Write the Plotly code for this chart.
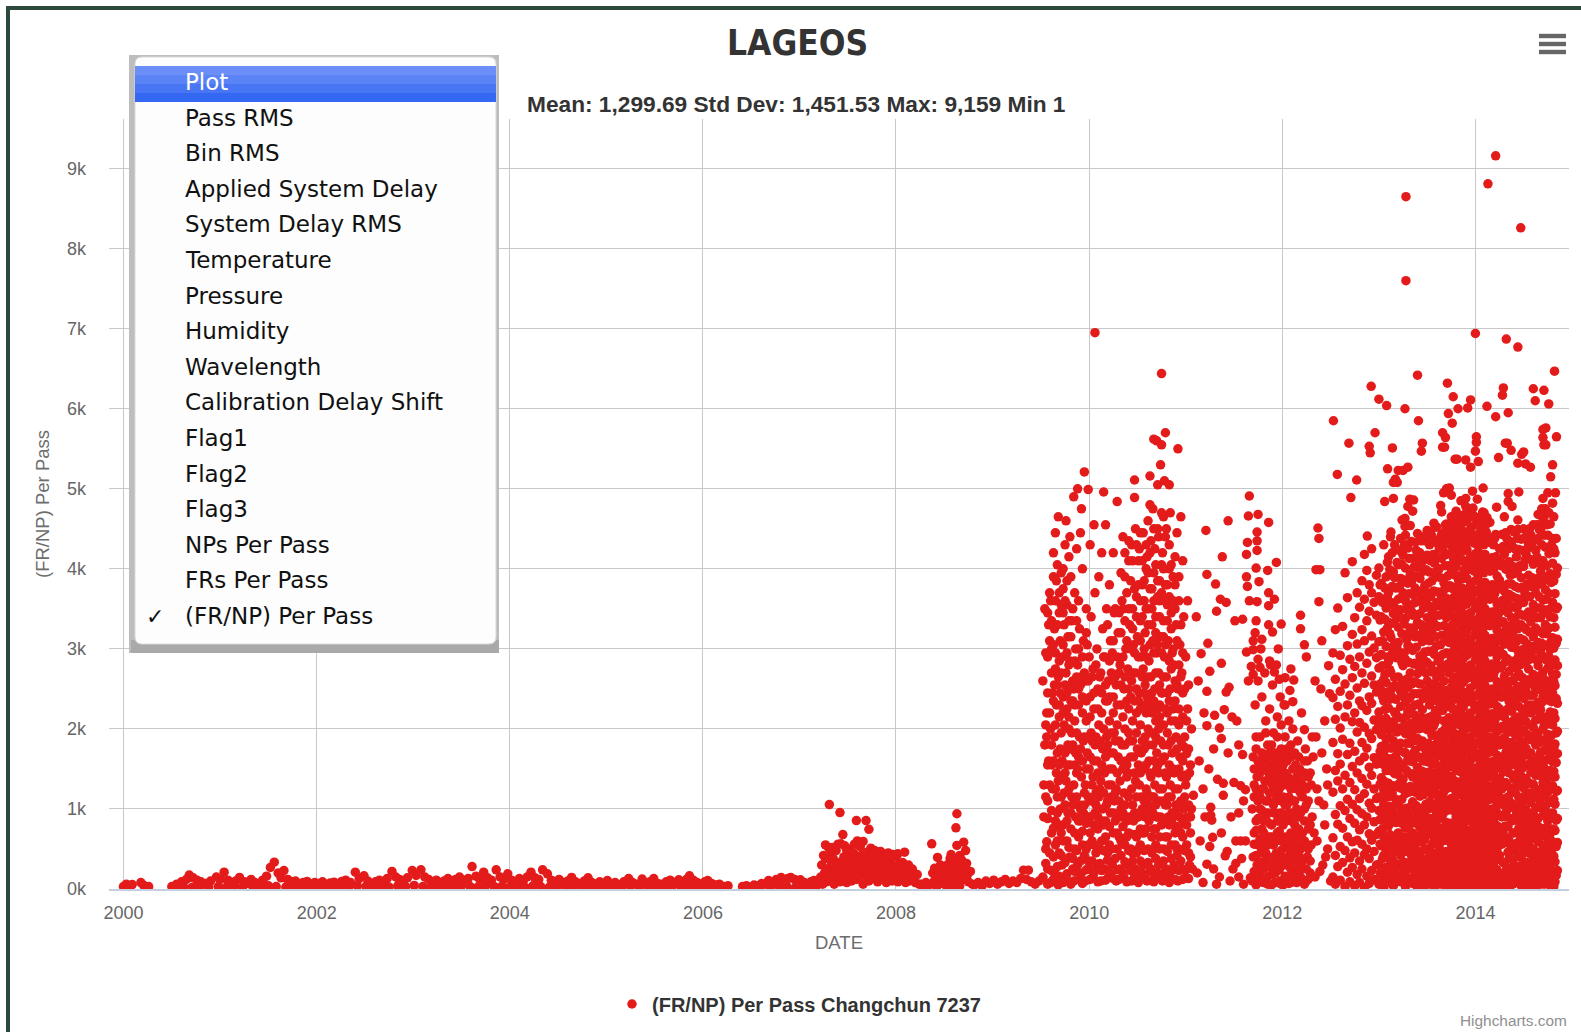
import plotly.graph_objects as go
import pandas as pd

# ---------------- data: (decimal year, FR/NP per pass) ----------------
low_band = [
(2000.00,30),(2000.03,60),(2000.06,40),(2000.09,55),(2000.18,80),(2000.21,45),(2000.26,30),
(2000.50,30),(2000.55,60),(2000.60,90),(2000.65,120),(2000.68,175),(2000.72,140),(2000.76,110),(2000.80,90),(2000.85,70),(2000.90,100),(2000.96,150),(2001.00,120),(2001.04,210),(2001.08,110),(2001.12,80),(2001.16,100),(2001.20,145),(2001.25,90),(2001.29,70),(2001.32,120),(2001.36,80),(2001.40,60),(2001.44,110),(2001.48,160),(2001.52,270),(2001.56,335),(2001.60,200),(2001.63,140),(2001.66,230),(2001.70,120),(2001.74,90),(2001.78,100),(2001.82,70),(2001.86,80),(2001.90,95),(2001.94,60),(2001.98,80),
(2002.02,70),(2002.06,90),(2002.10,60),(2002.14,75),(2002.18,85),(2002.22,65),(2002.26,95),(2002.30,110),(2002.35,80),(2002.40,210),(2002.44,130),(2002.49,165),(2002.53,100),(2002.57,70),(2002.61,90),(2002.65,110),(2002.69,80),(2002.73,130),(2002.78,220),(2002.82,150),(2002.86,120),(2002.90,100),(2002.94,140),(2002.99,230),
(2003.03,170),(2003.08,240),(2003.12,150),(2003.16,120),(2003.20,90),(2003.24,110),(2003.28,80),(2003.32,100),(2003.36,130),(2003.40,90),(2003.44,120),(2003.48,150),(2003.52,110),(2003.57,130),(2003.61,280),(2003.65,160),(2003.69,120),(2003.73,210),(2003.77,140),(2003.81,110),(2003.86,240),(2003.90,150),(2003.94,120),(2003.98,190),
(2004.02,110),(2004.06,90),(2004.10,130),(2004.14,100),(2004.18,150),(2004.22,210),(2004.26,140),(2004.30,120),(2004.34,240),(2004.39,190),(2004.43,110),(2004.47,90),(2004.51,120),(2004.55,80),(2004.60,100),(2004.64,145),(2004.68,90),(2004.72,70),(2004.77,100),(2004.81,140),(2004.85,80),(2004.89,60),(2004.93,90),(2004.97,70),
(2005.01,105),(2005.05,60),(2005.09,80),(2005.13,50),(2005.18,90),(2005.23,130),(2005.27,80),(2005.32,60),(2005.37,125),(2005.41,70),(2005.45,90),(2005.49,130),(2005.53,70),(2005.57,60),(2005.62,90),(2005.66,110),(2005.70,80),(2005.75,115),(2005.79,90),(2005.83,120),(2005.86,165),(2005.90,110),(2005.94,80),(2005.98,60),
(2006.02,90),(2006.05,105),(2006.09,70),(2006.13,50),(2006.17,60),(2006.22,30),(2006.26,40),
]
low_base = [
(2000.53,20),(2000.62,30),(2000.71,20),(2000.79,35),(2000.88,25),(2000.98,30),(2001.06,20),(2001.14,35),(2001.23,25),(2001.34,30),(2001.42,20),(2001.50,40),(2001.58,30),(2001.68,25),(2001.76,35),(2001.84,20),(2001.92,30),(2002.00,25),(2002.08,35),(2002.16,20),(2002.24,30),(2002.33,25),(2002.42,40),(2002.51,30),(2002.59,20),(2002.67,35),(2002.75,25),(2002.84,40),(2002.92,30),(2003.01,45),(2003.10,30),(2003.18,25),(2003.26,35),(2003.34,20),(2003.42,30),(2003.50,40),(2003.59,30),(2003.67,25),(2003.75,40),(2003.84,30),(2003.92,35),(2004.00,25),(2004.08,30),(2004.16,20),(2004.24,40),(2004.32,30),(2004.41,25),(2004.49,35),(2004.58,20),(2004.66,30),(2004.75,25),(2004.83,35),(2004.91,20),(2004.99,30),(2005.07,25),(2005.16,20),(2005.25,35),(2005.34,25),(2005.43,30),(2005.51,20),(2005.60,25),(2005.68,35),(2005.77,30),(2005.85,40),(2005.92,25),(2006.00,30),(2006.07,20),(2006.15,25),
(2006.43,15),(2006.51,20),(2006.59,25),(2006.70,30),(2006.79,35),(2006.87,30),(2006.96,25),(2007.03,30),(2007.11,20),(2007.17,25),
]
band_2006_2007 = [
(2006.41,30),(2006.45,40),(2006.49,25),(2006.53,50),(2006.57,40),(2006.61,70),(2006.65,60),(2006.68,105),(2006.72,80),(2006.76,120),(2006.81,145),(2006.85,110),(2006.88,130),(2006.91,145),(2006.95,120),(2006.98,90),(2007.01,115),(2007.05,80),(2007.09,60),(2007.12,90),(2007.15,105),(2007.19,70),
]
cluster_2007 = [
(2007.22,150),(2007.23,300),(2007.24,60),(2007.25,420),(2007.26,200),(2007.27,380),(2007.28,90),(2007.29,250),(2007.30,520),(2007.31,1055),(2007.31,130),(2007.32,440),(2007.33,300),(2007.34,180),(2007.35,380),(2007.36,60),(2007.37,250),(2007.38,480),(2007.39,150),(2007.40,330),(2007.41,220),(2007.42,955),(2007.42,90),(2007.43,565),(2007.44,280),(2007.45,680),(2007.45,150),(2007.46,400),(2007.47,230),(2007.48,330),(2007.49,480),(2007.49,80),(2007.50,290),(2007.51,180),(2007.52,390),(2007.53,250),(2007.54,100),(2007.55,340),(2007.56,450),(2007.57,200),(2007.58,300),(2007.59,855),(2007.59,120),(2007.60,600),(2007.61,380),(2007.62,250),(2007.63,170),(2007.64,420),(2007.65,300),(2007.66,595),(2007.66,60),(2007.67,230),(2007.68,360),(2007.69,855),(2007.69,150),(2007.70,460),(2007.71,270),(2007.72,745),(2007.72,100),(2007.73,350),(2007.74,200),(2007.75,420),(2007.76,280),(2007.77,130),(2007.78,330),(2007.79,230),(2007.80,380),(2007.81,90),(2007.82,290),(2007.83,190),(2007.84,350),(2007.85,250),(2007.86,120),(2007.87,300),(2007.88,200),(2007.89,420),(2007.90,80),(2007.91,260),(2007.92,340),(2007.93,160),(2007.94,240),(2007.95,310),(2007.96,100),(2007.97,200),(2007.98,280),(2007.99,140),(2008.00,400),(2008.01,220),(2008.02,90),(2008.03,300),(2008.04,170),(2008.05,250),(2008.06,120),(2008.07,330),(2008.08,200),(2008.09,460),(2008.10,80),(2008.11,240),(2008.12,150),(2008.13,300),(2008.14,100),(2008.15,200),(2008.17,250),(2008.18,130),(2008.20,80),(2008.22,180),(2008.24,60),
(2007.27,550),(2007.34,520),(2007.40,560),(2007.47,540),(2007.53,500),(2007.57,560),(2007.63,530),(2007.74,510),(2007.78,480),(2007.84,470),(2007.92,450),(2007.97,430),(2008.02,440),
]
cluster_2008 = [
(2008.26,60),(2008.29,40),(2008.31,80),(2008.34,50),
(2008.37,565),(2008.38,200),(2008.39,90),(2008.40,260),(2008.41,150),(2008.43,395),(2008.44,60),(2008.45,180),(2008.46,300),(2008.47,120),(2008.48,220),(2008.49,80),(2008.50,260),(2008.51,160),(2008.53,300),(2008.54,100),(2008.55,230),(2008.56,380),(2008.57,430),(2008.58,150),(2008.59,290),(2008.60,360),(2008.61,200),(2008.62,765),(2008.62,100),(2008.63,940),(2008.63,545),(2008.64,320),(2008.65,170),(2008.66,420),(2008.67,250),(2008.68,360),(2008.69,120),(2008.70,585),(2008.71,280),(2008.72,480),(2008.73,320),(2008.74,180),(2008.75,90),(2008.77,220),(2008.79,60),
(2008.42,30),(2008.52,40),(2008.58,30),(2008.66,40),
(2008.81,50),(2008.85,80),(2008.89,40),(2008.93,100),(2008.97,70),(2009.01,110),(2009.05,60),(2009.09,90),(2009.13,120),(2009.17,70),(2009.21,100),(2009.25,80),(2009.29,130),(2009.32,235),(2009.35,120),(2009.37,235),(2009.40,90),(2009.44,60),(2009.48,100),(2009.52,140),
]
burst_2009_2011 = [
(2009.52,150),(2009.53,900),(2009.54,1800),(2009.52,2600),(2009.54,3500),(2009.55,500),(2009.53,1300),
(2009.56,590),(2009.57,1100),(2009.58,1600),(2009.56,2200),(2009.57,2900),(2009.58,3300),(2009.57,250),(2009.59,3700),(2009.56,1900),
(2009.60,80),(2009.61,700),(2009.62,1250),(2009.60,2000),(2009.62,2450),(2009.61,3000),(2009.60,3600),(2009.63,4200),(2009.61,1550),(2009.63,400),
(2009.64,200),(2009.65,850),(2009.66,1450),(2009.64,1900),(2009.66,2300),(2009.65,2750),(2009.64,3250),(2009.66,3850),(2009.65,4450),(2009.67,600),(2009.67,1150),(2009.64,2550),
(2009.68,50),(2009.69,450),(2009.70,1000),(2009.68,1350),(2009.70,1750),(2009.69,2150),(2009.68,2650),(2009.70,3100),(2009.69,3450),(2009.71,3950),(2009.68,4650),(2009.71,700),(2009.70,2450),
(2009.72,300),(2009.73,800),(2009.74,1200),(2009.72,1600),(2009.74,2050),(2009.73,2400),(2009.72,2900),(2009.74,3300),(2009.73,3750),(2009.75,4300),(2009.72,120),(2009.75,1450),(2009.73,4000),
(2009.76,150),(2009.77,600),(2009.78,950),(2009.76,1350),(2009.78,1800),(2009.77,2250),(2009.76,2700),(2009.78,3150),(2009.77,3550),(2009.79,4150),(2009.76,4600),(2009.79,2000),
(2009.80,400),(2009.81,750),(2009.82,1150),(2009.80,1550),(2009.82,1950),(2009.81,2350),(2009.80,2850),(2009.82,3350),(2009.81,3900),(2009.83,250),(2009.80,4400),(2009.83,2600),
(2009.84,100),(2009.85,500),(2009.86,900),(2009.84,1300),(2009.86,1700),(2009.85,2100),(2009.84,2500),(2009.86,3000),(2009.85,3700),(2009.87,4250),(2009.84,4900),(2009.87,1450),
(2009.88,300),(2009.89,650),(2009.90,1050),(2009.88,1500),(2009.90,1900),(2009.89,2300),(2009.88,2800),(2009.90,3250),(2009.89,3600),(2009.91,4450),(2009.88,5000),(2009.91,850),
(2009.92,200),(2009.93,550),(2009.94,950),(2009.92,1400),(2009.94,1850),(2009.93,2200),(2009.92,2650),(2009.94,3100),(2009.93,4000),(2009.95,5210),(2009.92,4750),(2009.95,1200),
(2009.96,100),(2010.06,6950),(2009.97,500),(2009.98,900),(2009.96,1300),(2009.98,1700),(2009.97,2100),(2009.96,2600),(2009.98,3050),(2009.97,3500),(2009.99,4990),(2009.99,350),
(2010.00,250),(2010.01,700),(2010.02,1100),(2010.00,1500),(2010.02,1950),(2010.01,2400),(2010.00,2900),(2010.02,3400),(2010.01,4300),(2010.03,600),
(2010.04,150),(2010.05,550),(2010.06,950),(2010.04,1400),(2010.06,1800),(2010.05,2250),(2010.04,2750),(2010.06,3700),(2010.05,4550),(2010.07,1200),
(2010.08,300),(2010.09,750),(2010.10,1150),(2010.08,1600),(2010.10,2050),(2010.09,2500),(2010.08,3000),(2010.10,3900),(2010.11,500),
(2010.12,100),(2010.13,600),(2010.14,1000),(2010.12,1350),(2010.14,1750),(2010.13,2200),(2010.12,2700),(2010.14,3250),(2010.15,4960),(2010.13,4200),(2010.15,800),
(2010.16,250),(2010.17,650),(2010.18,1050),(2010.16,1450),(2010.18,1900),(2010.17,2350),(2010.16,2900),(2010.18,3500),(2010.19,450),(2010.17,4550),
(2010.20,150),(2010.21,550),(2010.22,950),(2010.20,1300),(2010.22,1700),(2010.21,2100),(2010.20,2600),(2010.22,3100),(2010.21,3800),(2010.23,1150),
(2010.24,300),(2010.25,700),(2010.26,1100),(2010.24,1500),(2010.26,1950),(2010.25,2400),(2010.24,2950),(2010.26,3450),(2010.25,4200),(2010.27,850),
(2010.28,100),(2010.29,500),(2010.30,900),(2010.28,1250),(2010.30,1650),(2010.29,2050),(2010.28,2550),(2010.30,3200),(2010.29,4840),(2010.31,650),(2010.31,900),
(2010.32,250),(2010.33,600),(2010.34,900),(2010.32,1350),(2010.34,1800),(2010.33,2300),(2010.32,2800),(2010.34,3600),(2010.35,4400),(2010.35,950),
(2010.36,150),(2010.37,550),(2010.38,900),(2010.36,1200),(2010.38,1600),(2010.37,2000),(2010.36,2500),(2010.38,3000),(2010.37,3900),(2010.39,850),(2010.39,1400),
(2010.40,300),(2010.41,700),(2010.42,900),(2010.40,1450),(2010.42,1850),(2010.41,2250),(2010.40,2750),(2010.42,3300),(2010.41,4100),(2010.43,500),
(2010.44,100),(2010.45,450),(2010.46,850),(2010.44,1250),(2010.46,1650),(2010.45,2100),(2010.44,2600),(2010.46,3050),(2010.45,3500),(2010.47,4890),(2010.47,5110),(2010.47,950),(2010.44,4300),
(2010.48,250),(2010.49,650),(2010.50,900),(2010.48,1350),(2010.50,1750),(2010.49,2200),(2010.48,2700),(2010.50,3150),(2010.49,3650),(2010.51,4100),(2010.51,500),(2010.48,4500),
(2010.52,150),(2010.53,550),(2010.54,950),(2010.52,1300),(2010.54,1700),(2010.53,2050),(2010.52,2450),(2010.54,2900),(2010.53,3350),(2010.55,3800),(2010.52,4250),(2010.55,700),(2010.54,1150),
(2010.56,300),(2010.57,700),(2010.58,900),(2010.56,1500),(2010.58,1900),(2010.57,2300),(2010.56,2750),(2010.58,3200),(2010.57,3600),(2010.59,4000),(2010.56,4450),(2010.59,1250),(2010.58,2550),
(2010.60,100),(2010.61,500),(2010.62,850),(2010.60,1200),(2010.62,1600),(2010.61,2000),(2010.60,2400),(2010.62,2850),(2010.61,3300),(2010.63,3750),(2010.60,4150),(2010.63,5160),(2010.62,1000),(2010.61,4600),
(2010.64,250),(2010.65,650),(2010.66,950),(2010.64,1400),(2010.66,1800),(2010.65,2200),(2010.64,2650),(2010.66,3100),(2010.65,3500),(2010.67,3950),(2010.64,4350),(2010.67,5620),(2010.66,4750),(2010.67,1150),
(2010.68,150),(2010.69,550),(2010.70,900),(2010.68,1300),(2010.70,1700),(2010.69,2100),(2010.68,2500),(2010.70,2950),(2010.69,3400),(2010.71,3850),(2010.68,4250),(2010.71,5050),(2010.70,5600),(2010.69,750),(2010.70,1500),
(2010.72,300),(2010.73,650),(2010.74,900),(2010.72,1450),(2010.74,1850),(2010.73,2300),(2010.72,2700),(2010.74,3150),(2010.73,3600),(2010.75,4050),(2010.72,4400),(2010.74,5300),(2010.75,5550),(2010.75,6440),(2010.73,1100),(2010.72,2000),
(2010.76,100),(2010.77,500),(2010.78,850),(2010.76,1250),(2010.78,1650),(2010.77,2050),(2010.76,2450),(2010.78,2900),(2010.77,3350),(2010.79,3800),(2010.76,4200),(2010.79,5700),(2010.78,5100),(2010.77,4650),(2010.79,1050),
(2010.80,250),(2010.81,650),(2010.82,900),(2010.80,1400),(2010.82,1800),(2010.81,2200),(2010.80,2650),(2010.82,3100),(2010.81,3550),(2010.83,4000),(2010.80,4500),(2010.83,5050),(2010.82,1150),
(2010.84,150),(2010.85,550),(2010.86,950),(2010.84,1300),(2010.86,1700),(2010.85,2100),(2010.84,2500),(2010.86,2950),(2010.85,3450),(2010.87,3900),(2010.84,4700),(2010.87,800),
(2010.88,300),(2010.89,700),(2010.90,1050),(2010.88,1450),(2010.90,1900),(2010.89,2350),(2010.88,2800),(2010.90,3300),(2010.89,3800),(2010.91,4450),(2010.92,5500),(2010.91,500),
(2010.92,100),(2010.93,500),(2010.94,900),(2010.92,1250),(2010.94,1650),(2010.93,2050),(2010.92,2500),(2010.94,3050),(2010.93,3600),(2010.95,4650),(2010.95,700),
(2010.96,250),(2010.97,650),(2010.98,1000),(2010.96,1400),(2010.98,1780),(2010.97,2150),(2010.96,2700),(2010.98,3400),(2010.99,1420),(2010.97,4100),
(2011.00,150),(2011.01,550),(2011.02,900),(2011.00,1300),(2011.01,1690),(2011.02,2250),(2011.00,2900),(2011.03,450),(2011.02,3600),
(2011.04,300),(2011.05,700),(2011.06,1000),(2011.04,1450),(2011.06,2000),(2011.08,1170),(2011.07,250),
]
cols_2009_2011 = [
(2009.55,[320,1150,2050,2950]),(2009.57,[60,880,1550,2450,3450]),(2009.59,[450,1300,2200,3100]),
(2009.61,[230,980,1800,2700,3350]),(2009.63,[120,760,1600,2350,3050,3900]),(2009.65,[550,1250,2050,2950,3600]),
(2009.67,[280,950,1700,2550,3300,4050]),(2009.69,[160,800,1550,2300,2850,3700]),(2009.71,[420,1150,1950,2700,3550]),
(2009.73,[80,600,1400,2200,3050,3450]),(2009.75,[330,1050,1700,2550,3600]),(2009.77,[190,850,1550,2450,2950,3850]),
(2009.79,[520,1250,2150,2800,3350]),(2009.81,[60,950,1750,2550,3150]),(2009.83,[380,1050,1800,2350,3500]),
(2009.85,[220,700,1550,2300,2850]),(2009.87,[480,1150,1950,2650,3350]),(2009.89,[120,850,1650,2500,3000]),
(2009.91,[350,1000,1750,2550]),(2009.93,[70,720,1600,2400,2900]),(2009.95,[420,1050,1900,2700]),
(2009.97,[240,820,1500,2350,3200]),(2009.99,[550,1150,1900,2600]),(2010.01,[120,900,1650,2150]),
(2010.03,[350,1300,1850,2650]),(2010.05,[200,800,1600,2450]),(2010.07,[450,1050,1900,2800]),
(2010.09,[90,900,1450,2250]),(2010.11,[320,1250,1850,2650]),(2010.13,[230,850,1550,2450]),
(2010.15,[480,1200,2000,2900]),(2010.17,[110,850,1650,2550]),(2010.19,[360,1100,1800,2350,3300]),
(2010.21,[200,780,1500,2400,2850]),(2010.23,[500,1300,1950,2700]),(2010.25,[130,950,1700,2200,3100]),
(2010.27,[380,1200,1850,2650,3500]),(2010.29,[240,700,1450,2300,2900]),(2010.31,[120,1100,1850,2700,3450]),
(2010.33,[420,1000,1600,2550,3200,3950]),(2010.35,[200,780,1500,2150,2900,3500]),(2010.37,[340,1050,1800,2650,3350,4200]),
(2010.39,[90,650,1550,2350,3100,3700]),(2010.41,[480,1150,1950,2500,3500,4350]),(2010.43,[230,880,1650,2400,3000,3850]),
(2010.45,[350,1050,1850,2700,3250,4100]),(2010.47,[150,680,1450,2350,2950,3750]),(2010.49,[450,1150,1950,2500,3400,4300]),
(2010.51,[80,900,1550,2350,2900,3800]),(2010.53,[350,750,1450,2250,3100,3600,4450]),(2010.55,[200,1000,1850,2650,3400,4100]),
(2010.57,[480,1100,1750,2450,3000,3850]),(2010.59,[120,750,1550,2200,2900,3500,4300]),(2010.61,[330,1050,1800,2650,3500,3950]),
(2010.63,[220,900,1450,2300,3050,4200,4800]),(2010.65,[450,1150,1950,2450,3300,3750]),(2010.67,[90,750,1600,2350,2950,3600,4500]),
(2010.69,[380,1050,1900,2700,3200,4050]),(2010.71,[200,900,1550,2250,3050,3650,4500]),(2010.73,[500,1250,2150,2550,3400,3850]),
(2010.75,[130,800,1600,2450,2950,3700,4700]),(2010.77,[350,1100,1800,2650,3150,4000]),(2010.79,[220,650,1450,2250,3050,3600,4400]),
(2010.81,[470,1050,1950,2450,3350,3800]),(2010.83,[80,800,1550,2350,2850,3650,4300]),(2010.85,[380,1150,1850,2750,3250,4050]),
(2010.87,[240,900,1500,2250,3000,3600]),(2010.89,[120,550,1250,2100,2600,3500,4150]),(2010.91,[420,1000,1750,2550,3100]),
(2010.93,[230,780,1500,2250,2800,3900]),(2010.95,[350,1100,1850,2650,3300]),(2010.97,[120,850,1600,2450,2950]),
(2010.99,[480,1150,1900,2500]),(2011.01,[250,800,1400,2100]),(2011.03,[130,1050,1750,2550]),(2011.05,[400,900,1550]),
]
sparse_2011 = [
(2011.21,4480),(2011.22,3930),(2011.31,3810),(2011.36,3620),(2011.32,3470),(2011.42,3580),(2011.38,4150),(2011.44,4600),(2011.23,3070),(2011.16,2940),(2011.25,2720),(2011.37,2820),(2011.22,2470),(2011.42,2460),(2011.45,2520),(2011.40,2240),(2011.30,2170),(2011.22,2040),(2011.35,2010),(2011.48,2150),(2011.37,1880),(2011.44,1700),(2011.59,1680),(2011.26,1020),(2011.26,920),(2011.27,860),(2011.28,645),(2011.25,530),(2011.22,310),(2011.32,60),(2011.52,600),(2011.57,600),(2011.62,600),(2011.41,415),(2011.43,470),(2011.52,320),(2011.67,140),(2011.47,900),(2011.39,1170),(2011.39,1320),(2011.50,1330),(2011.57,1290),(2011.62,1240),(2011.60,1100),(2011.33,1370),
(2011.12,200),(2011.15,600),(2011.18,80),(2011.20,900),(2011.29,250),(2011.35,150),(2011.37,700),(2011.46,100),(2011.49,250),(2011.55,150),(2011.58,380),(2011.60,60),(2011.14,1600),(2011.18,1250),(2011.24,1500),(2011.29,1750),(2011.55,950),(2011.11,3400),(2011.13,2600),(2011.19,2200),(2011.53,2100),(2011.55,1800),
(2011.66,4910),(2011.65,4660),(2011.75,4680),(2011.86,4580),(2011.74,4460),(2011.64,4330),(2011.74,4350),(2011.74,4230),(2011.63,4180),(2011.73,4010),(2011.85,3980),(2011.94,4080),(2011.63,3900),(2011.76,3840),(2011.64,3780),(2011.86,3700),(2011.92,3620),(2011.66,3600),(2011.74,3590),(2011.86,3540),(2011.51,3350),(2011.59,3370),(2011.73,3350),(2011.72,3200),(2011.90,3210),(2011.99,3310),(2011.70,3100),(2011.79,3120),(2011.70,2990),(2011.63,2960),(2011.96,3000),(2011.75,2870),(2011.87,2850),(2011.68,2780),(2011.77,2770),(2011.70,2680),(2011.65,2600),(2011.88,2800),(2011.92,2710),(2011.97,2620),(2012.03,2640),(2012.09,2750),(2012.12,2610),(2012.08,2480),(2012.11,2340),(2012.03,2300),(2012.20,2200),(2012.23,1990),(2012.19,3420),(2012.19,3250),(2012.23,3050),(2012.25,2900),
(2012.34,150),(2012.36,600),(2012.38,1100),(2012.35,1900),(2012.40,2500),(2012.42,300),(2012.44,800),(2012.46,1500),(2012.48,2790),(2012.49,2440),(2012.37,4510),(2012.38,4380),(2012.35,3990),(2012.39,3990),(2012.38,3590),(2012.50,100),(2012.47,500),
(2012.33,700),(2012.36,1250),(2012.41,1700),(2012.43,1050),(2012.45,400),(2012.31,1900),(2012.39,220),(2012.47,1300),(2012.44,2100),(2012.34,2600),(2012.41,3100),
]
dense_2012 = [
(2011.69,100),(2011.70,400),(2011.71,700),(2011.69,1000),(2011.71,1300),(2011.70,1650),(2011.72,2300),
(2011.73,50),(2011.74,300),(2011.75,550),(2011.73,850),(2011.75,1100),(2011.74,1400),(2011.73,1750),(2011.75,2600),
(2011.77,200),(2011.78,450),(2011.79,750),(2011.77,1000),(2011.79,1250),(2011.78,1550),(2011.77,1900),(2011.79,2400),(2011.78,3000),
(2011.81,80),(2011.82,350),(2011.83,600),(2011.81,850),(2011.83,1100),(2011.82,1350),(2011.81,1650),(2011.83,2100),(2011.82,2700),
(2011.85,150),(2011.86,400),(2011.87,650),(2011.85,950),(2011.87,1200),(2011.86,1450),(2011.85,1800),(2011.87,2250),(2011.86,3300),
(2011.89,50),(2011.90,300),(2011.91,550),(2011.89,800),(2011.91,1050),(2011.90,1300),(2011.89,1550),(2011.91,1950),(2011.90,2550),
(2011.93,200),(2011.94,450),(2011.95,700),(2011.93,950),(2011.95,1200),(2011.94,1450),(2011.93,1700),(2011.95,2150),(2011.94,2800),
(2011.97,100),(2011.98,350),(2011.99,600),(2011.97,850),(2011.99,1100),(2011.98,1350),(2011.97,1650),(2011.99,2050),(2011.98,2400),
(2012.01,50),(2012.02,300),(2012.03,550),(2012.01,800),(2012.03,1050),(2012.02,1300),(2012.01,1550),(2012.03,1900),(2012.02,2300),
(2012.05,150),(2012.06,400),(2012.07,650),(2012.05,900),(2012.07,1150),(2012.06,1400),(2012.05,1750),(2012.07,2100),
(2012.09,80),(2012.10,350),(2012.11,600),(2012.09,850),(2012.11,1100),(2012.10,1350),(2012.09,1650),(2012.11,2000),
(2012.13,200),(2012.14,450),(2012.15,700),(2012.13,950),(2012.15,1250),(2012.14,1550),(2012.16,1850),
(2012.17,100),(2012.18,400),(2012.19,650),(2012.17,900),(2012.19,1200),(2012.18,1500),
(2012.21,250),(2012.22,550),(2012.23,850),(2012.21,1150),(2012.23,1450),(2012.24,1750),
(2012.25,100),(2012.26,400),(2012.27,750),(2012.25,1050),(2012.27,1400),(2012.26,1600),
(2012.29,200),(2012.30,550),(2012.31,900),(2012.30,1300),(2012.32,1650),
]
cols_2011_2012 = [
(2011.71,[220,560,1150,1500]),(2011.73,[420,730,1250,1900]),(2011.75,[150,880,1600]),(2011.77,[330,620,1150,1450]),
(2011.79,[90,500,980,1700]),(2011.81,[250,700,1250,1500]),(2011.83,[450,900,1600,1950]),(2011.85,[60,550,1100,1350]),
(2011.87,[280,820,1400,1700]),(2011.89,[180,650,1200,1800]),(2011.91,[400,950,1450,1650]),(2011.93,[80,600,1100,1350]),
(2011.95,[330,850,1600,1900]),(2011.97,[240,720,1250,1500]),(2011.99,[60,480,950,1750]),(2012.01,[380,650,1150,1400]),
(2012.03,[160,850,1450,1650]),(2012.05,[300,650,1050,1600]),(2012.07,[70,500,950,1350]),(2012.09,[250,700,1250,1800]),
(2012.11,[180,450,950,1500]),(2012.13,[380,800,1100,1700]),(2012.15,[80,550,1000,1400]),(2012.17,[280,750,1300,1650]),
(2012.19,[150,500,950,1350]),(2012.21,[350,700,1300]),(2012.23,[60,600,1000,1600]),(2012.25,[250,550,1250]),
(2012.27,[120,500,1100]),(2012.29,[350,800,1450]),
]
cols_2012_2013 = [
(2012.525,[150,640,1210,1830,2390,2950]),(2012.550,[60,420,930,1480,2120,2620,3240]),(2012.575,[280,810,1350,1690,2280,3510]),
(2012.600,[110,530,1040,1560,2010,2470,2920]),(2012.625,[330,760,1250,1870,2740,3280]),(2012.650,[30,480,980,1420,2150,2560,3950]),
(2012.675,[210,650,1120,1680,2300,3040,3640]),(2012.700,[90,390,880,1330,1820,2420,2870]),(2012.725,[270,590,1060,1530,2090,2640,3180,4090]),
(2012.750,[40,450,820,1240,1720,2200,2780,3390]),(2012.775,[180,610,990,1450,1960,2510,3060,3700]),(2012.800,[80,350,740,1130,1600,2080,2350,2900,3520]),
(2012.825,[250,560,940,1380,1830,2290,2700,3240,3850]),(2012.850,[20,430,800,1190,1650,2020,2570,3100,3620,4180]),(2012.875,[160,500,900,1310,1760,2230,2820,3350,3980]),
(2012.900,[70,380,690,1070,1520,1940,2400,2960,3470,3800]),(2012.925,[230,610,1010,1420,1880,2320,2660,3160,3700,4250]),(2012.950,[120,470,840,1250,1640,2110,2550,3010,3580]),
(2012.975,[300,680,1130,1560,1990,2460,2890,3420,3920]),
]
cols_2013_2014 = [
(2013.000,[60,310,720,980,1150,1620,2040,2210,2760,3090,3650,4010]),
(2013.025,[180,540,860,1390,1780,1930,2480,2930,3400,3820]),
(2013.050,[20,420,650,1060,1240,1710,2350,2620,3210,4300]),
(2013.075,[270,480,900,1480,1880,2130,2580,3030,3510,3900]),
(2013.100,[110,390,790,1150,1320,1990,2260,2840,3330,3700,4150]),
(2013.125,[230,610,1010,1570,1760,2420,2700,3140,3580,4460]),
(2013.150,[40,350,560,940,1290,1850,2090,2530,2980,3440,3960]),
(2013.175,[160,470,830,1120,1660,2190,2370,2890,3760,4240]),
(2013.200,[290,700,1050,1430,1600,2010,2650,3080,3270,3620,4050]),
(2013.225,[90,420,610,880,1260,1820,2280,2470,2950,3490,3880,4380]),
(2013.250,[200,540,1000,1370,1550,2130,2600,2790,3180,3700,4170]),
(2013.275,[30,330,760,1190,1700,1940,2330,2870,3380,3600,4010,4420]),
(2013.300,[140,490,640,930,1450,1620,2220,2520,3040,3540,3820,4260]),
(2013.325,[260,580,840,1280,1820,2060,2400,2700,3260,3930,4540]),
(2013.350,[70,380,700,1090,1400,1590,1970,2590,2980,3420,3680,4130]),
(2013.375,[190,520,980,1210,1730,2170,2300,2820,3150,3760,4330]),
(2013.400,[20,300,660,890,1330,1520,1880,2440,2690,3330,3590,4020,4440]),
(2013.425,[130,450,770,1160,1640,2050,2560,2910,3440,3880,4200]),
(2013.450,[240,590,1010,1300,1470,1850,2240,2740,3090,3620,4090]),
(2013.475,[50,370,620,920,1220,1760,2120,2410,2960,3250,3790,4350]),
(2013.500,[180,500,860,1410,1590,1990,2600,2830,3390,3700,4170,4480]),
(2013.525,[80,290,690,1090,1250,1720,2300,2520,3100,3530,3960,4300]),
(2013.550,[220,560,790,1180,1560,1920,2160,2710,3210,3470,3850,4410]),
(2013.575,[30,420,730,1000,1380,1680,2060,2450,2930,3310,3720,4070]),
(2013.600,[150,350,600,940,1290,1820,2350,2640,3040,3580,3900,4520]),
(2013.625,[270,520,880,1160,1490,1740,2220,2530,2860,3420,4000,4250]),
(2013.650,[60,440,760,1060,1370,1960,2420,2790,3170,3650,4130,4430]),
(2013.675,[190,330,680,1220,1580,1850,2100,2600,3290,3540,3820,4320]),
(2013.700,[100,470,830,980,1430,1700,2280,2480,2950,3390,3760,4180,4560]),
(2013.725,[250,600,740,1110,1300,1900,2140,2700,3080,3610,4040,4400]),
(2013.750,[40,300,560,820,1130,1410,1650,1990,2330,2520,2890,3240,3570,3960,4290,4650]),
(2013.775,[170,420,690,980,1260,1560,1840,2140,2430,2760,3050,3400,3740,4120,4480]),
(2013.800,[80,340,610,900,1200,1480,1770,2060,2380,2650,2990,3330,3650,4020,4380,4720]),
(2013.825,[230,480,760,1050,1330,1620,1920,2230,2560,2830,3160,3500,3860,4210,4560]),
(2013.850,[120,370,640,930,1180,1460,1730,2040,2310,2610,2940,3280,3610,3920,4310,4660]),
(2013.875,[20,260,520,800,1080,1370,1680,1960,2270,2580,2880,3190,3540,3880,4220,4580]),
(2013.900,[150,410,700,990,1250,1540,1860,2130,2450,2740,3060,3370,3720,4060,4400,4780]),
(2013.925,[60,310,590,860,1140,1420,1700,2010,2340,2680,2970,3290,3630,3990,4340,4690]),
(2013.950,[200,460,740,1020,1310,1610,1900,2200,2510,2800,3120,3450,3800,4150,4500]),
(2013.975,[90,350,620,880,1170,1450,1750,2080,2390,2700,3020,3360,3690,4030,4420,4760]),
(2014.000,[250,500,780,1060,1350,1660,1950,2250,2560,2860,3180,3510,3850,4190,4550]),
(2014.025,[30,290,560,830,1110,1390,1690,1990,2290,2620,2930,3250,3590,3940,4290,4640]),
(2014.050,[160,430,710,990,1270,1570,1880,2170,2480,2790,3100,3420,3760,4100,4460]),
(2014.075,[70,330,600,900,1190,1480,1790,2090,2400,2730,3040,3360,3700,4050,4400,4710]),
(2014.100,[210,470,750,1040,1320,1630,1930,2230,2540,2850,3170,3500,3830,4180,4530]),
(2014.125,[110,380,650,940,1230,1520,1830,2120,2420,2750,3070,3390,3730,4080]),
(2014.150,[40,270,540,820,1120,1400,1710,2010,2310,2640,2960,3290,3620,3970,4330]),
(2014.175,[180,440,720,1000,1290,1590,1900,2190,2500,2810,3130,3460,3800,4140]),
(2014.200,[90,360,630,910,1200,1490,1800,2100,2410,2720,3030,3350,3690,4030,4380]),
(2014.225,[240,500,790,1070,1360,1670,1970,2280,2590,2900,3230,3560,3910]),
(2014.250,[50,420,700,1150,1380,1800,2250,2560,2980,3320,3860,4250]),
(2014.275,[190,560,900,1250,1640,2030,2400,2790,3180,3600,4070,4430]),
(2014.300,[110,330,780,1040,1520,1890,2150,2660,3060,3480,3720,4180]),
(2014.325,[260,630,980,1300,1730,2070,2490,2880,3290,3570,3990,4380]),
(2014.350,[20,380,600,1100,1450,1620,1960,2340,2720,3140,3680,4090]),
(2014.375,[150,480,850,1200,1560,1830,2220,2600,3020,3390,3810,4300]),
(2014.400,[300,700,1010,1370,1690,2110,2460,2820,3240,3520,3940,4460]),
(2014.425,[80,280,570,930,1280,1790,2000,2380,2760,3090,3630,4150]),
(2014.450,[210,520,760,1140,1480,1900,2280,2690,2950,3440,3760,4240]),
(2014.475,[40,400,670,1050,1410,1620,2150,2530,2880,3300,3890,4370]),
(2014.500,[170,560,880,1260,1550,1980,2380,2620,3110,3580,4030,4500]),
(2014.525,[100,330,720,990,1380,1760,2090,2470,2830,3240,3650,4180]),
(2014.550,[270,610,850,1200,1670,1870,2300,2750,3000,3460,3920,4320]),
(2014.575,[30,430,680,1080,1460,1700,2200,2560,2930,3340,3780,4420]),
(2014.600,[190,500,940,1310,1590,2020,2420,2680,3150,3550,4060,4550]),
(2014.625,[120,360,770,1010,1420,1800,2110,2500,2870,3260,3700,4230]),
(2014.650,[250,590,880,1240,1650,1950,2330,2790,3080,3510,3880,4380,4680]),
(2014.675,[60,450,700,1120,1500,1710,2240,2580,2960,3390,3970,4490]),
(2014.700,[200,540,920,1330,1560,2000,2400,2710,3190,3610,4100,4600,4880]),
(2014.725,[110,380,760,1030,1440,1840,2150,2520,2900,3300,3740,4270,4750]),
(2014.750,[280,620,850,1210,1620,1930,2360,2760,3050,3490,3860,4420,4950]),
(2014.775,[40,460,690,1100,1480,1750,2210,2600,2990,3400,3940,4560]),
(2014.800,[170,510,950,1290,1590,2050,2450,2690,3140,3580,4070,4380,4820]),
(2014.825,[90,340,730,1060,1400,1810,2130,2540,2860,3270,3690,4200]),
(2014.850,[230,580,880,1230,1690,1970,2320,2790,3120,3520,4010]),
]
cols_2013_2014_b = [
(2013.0125,[200,560,870,1310,1720,2120,2560,2920,3360,3800]),
(2013.0375,[100,380,750,1160,1560,2010,2400,2790,3100,3580]),
(2013.0625,[230,600,960,1340,1800,2240,2680,3370,3760]),
(2013.0875,[150,520,820,1250,1630,2060,2460,2900,3260,3650,4080]),
(2013.1125,[300,680,1030,1480,1890,2370,2740,3190,3560,3990]),
(2013.1375,[60,440,860,1200,1630,2000,2510,2940,3320,3780,4200]),
(2013.1625,[240,640,1040,1440,1770,2210,2640,3060,3520,3890,4300]),
(2013.1875,[120,500,930,1280,1510,1960,2530,3010,3380,4080]),
(2013.2125,[310,610,940,1320,1730,2140,2520,2900,3400,3780,4230]),
(2013.2375,[140,490,820,1120,1520,1990,2410,2830,3190,3640,4060]),
(2013.2625,[290,650,880,1280,1710,2040,2480,2950,3310,3860,4290]),
(2013.2875,[110,470,900,1010,1480,1820,2160,2620,3120,3490,3830,4300]),
(2013.3125,[250,580,790,1210,1600,1990,2380,2830,3200,3690,4130]),
(2013.3375,[80,420,690,1040,1440,1880,2260,2560,3010,3470,3840,4340]),
(2013.3625,[290,610,870,1250,1700,2080,2440,2810,3260,3570,4020]),
(2013.3875,[110,430,820,1040,1440,1850,2090,2580,3020,3420,3910,4230]),
(2013.4125,[260,600,1000,1250,1650,2000,2310,2780,3170,3700,4110]),
(2013.4375,[70,370,680,930,1400,1780,2140,2440,2840,3300,3720,4350]),
(2013.4625,[160,490,850,1180,1600,2010,2380,2870,3230,3510,3970]),
(2013.4875,[300,710,1060,1340,1680,2060,2490,2700,3130,3610,3990,4420]),
(2013.5125,[60,390,770,1000,1460,1820,2140,2440,2970,3300,3820,4120]),
(2013.5375,[180,470,880,1340,1650,2040,2400,2790,3200,3650,4100,4470]),
(2013.5625,[90,350,660,1060,1450,1790,2030,2560,2980,3380,3720,4180]),
(2013.5875,[250,580,870,1210,1560,1920,2230,2720,3150,3530,3960,4330]),
(2013.6125,[60,450,770,1090,1420,1660,2120,2500,2850,3280,3710,4140]),
(2013.6375,[160,380,680,1010,1310,1860,2300,2680,3050,3540,3890,4380]),
(2013.6625,[280,600,930,1160,1480,1780,2230,2490,2930,3440,3720,4240]),
(2013.6875,[50,410,780,1100,1330,1680,2000,2380,2770,3130,3640,4040,4470]),
(2013.7125,[180,370,670,1050,1260,1570,1920,2380,2810,3200,3490,3910,4330]),
(2013.7375,[120,440,700,990,1350,1530,1780,2090,2450,2800,3140,3480,3790,4190,4550]),
(2013.7625,[110,230,500,760,1040,1350,1750,2060,2250,2600,2960,3300,3630,4020,4390]),
(2013.7875,[20,290,560,830,1100,1350,1680,1940,2240,2560,2870,3210,3570,3920,4280,4610]),
(2013.8125,[150,420,690,960,1260,1560,1850,2140,2470,2780,3090,3420,3780,4120,4490]),
(2013.8375,[60,330,560,890,1230,1540,1800,2120,2410,2730,3060,3380,3710,4100,4420]),
(2013.8625,[190,460,770,1020,1310,1600,1870,2170,2470,2790,3090,3440,3760,4110,4480]),
(2013.8875,[100,350,660,930,1220,1510,1780,2060,2370,2660,2990,3290,3640,3990,4330,4680]),
(2013.9125,[30,260,530,850,1100,1400,1740,2040,2360,2630,2920,3220,3560,3880,4240,4590]),
(2013.9375,[160,440,720,980,1260,1560,1860,2180,2460,2780,3110,3440,3760,4120,4470]),
(2013.9625,[130,400,680,960,1240,1520,1820,2110,2400,2700,3000,3340,3700,4060,4420]),
(2013.9875,[20,290,560,800,1110,1380,1670,1990,2300,2620,2940,3270,3590,3970,4320,4650]),
(2014.0125,[150,410,690,950,1230,1510,1820,2110,2420,2730,3040,3360,3730,4080,4420]),
(2014.0375,[210,480,760,1060,1330,1630,1940,2230,2540,2860,3180,3500,3850,4200,4560]),
(2014.0625,[100,350,640,910,1200,1490,1790,2080,2380,2700,3020,3330,3670,4020,4370]),
(2014.0875,[10,250,520,820,1080,1390,1700,1990,2300,2620,2930,3270,3600,3950,4300,4630]),
(2014.1125,[170,430,710,990,1270,1580,1880,2170,2470,2800,3120,3440,3790,4140,4460]),
(2014.1375,[60,300,580,870,1160,1450,1760,2060,2370,2690,3010,3330,3670,4020,4390]),
(2014.1625,[140,410,680,950,1250,1540,1850,2150,2460,2770,3090,3410,3750,4100]),
(2014.1875,[30,300,580,860,1150,1440,1740,2050,2350,2670,2990,3300,3640,3980,4300]),
(2014.2125,[180,440,720,1000,1290,1600,1880,2190,2500,2820,3140,3470,3800,4150]),
(2014.2375,[100,370,640,930,1240,1540,1850,2160,2470,2780,3100,3430,3750,4100]),
(2014.2625,[120,560,920,1270,1590,2000,2400,2760,3120,3560,4040]),
(2014.2875,[30,330,700,1120,1460,1810,2180,2560,2930,3340,3790,4280]),
(2014.3125,[210,580,900,1330,1690,2000,2400,2840,3230,3630,4000,4450]),
(2014.3375,[120,460,780,1150,1550,1830,2250,2560,3070,3450,3810,4250]),
(2014.3625,[250,550,880,1260,1660,2080,2480,2850,3280,3540,3920,4340]),
(2014.3875,[60,360,700,1060,1420,1720,2060,2420,2780,3180,3650,4030]),
(2014.4125,[200,480,860,1210,1550,1930,2290,2640,3010,3350,3780,4250]),
(2014.4375,[130,410,700,1030,1390,1650,2150,2530,2880,3250,3530,3980,4380]),
(2014.4625,[290,610,940,1300,1720,2080,2460,2800,3130,3620,4040]),
(2014.4875,[100,480,800,1150,1510,1830,2240,2640,2990,3420,3770,4230]),
(2014.5125,[250,600,950,1300,1690,2180,2520,2900,3260,3700,4110,4390]),
(2014.5375,[40,460,780,1110,1550,1930,2270,2610,3060,3400,3810,4250]),
(2014.5625,[170,530,940,1320,1560,2050,2420,2870,3210,3650,4120,4500]),
(2014.5875,[110,330,780,1190,1540,1860,2300,2630,3030,3460,3890,4280]),
(2014.6125,[280,630,860,1230,1510,1920,2250,2580,3010,3400,3830,4360]),
(2014.6375,[50,460,680,1140,1530,1880,2230,2650,2990,3390,3790,4150,4550]),
(2014.6625,[160,390,770,1040,1420,1830,2130,2490,2870,3220,3650,4070,4490]),
(2014.6875,[290,660,1010,1250,1620,1860,2330,2680,3070,3500,3820,4300,4750]),
(2014.7125,[60,450,750,1170,1510,1730,2060,2620,3040,3450,3900,4420,4650]),
(2014.7375,[190,540,960,1320,1740,2060,2450,2860,3190,3620,4040,4550]),
(2014.7625,[130,350,760,1080,1400,1840,2130,2530,2900,3260,3690,4190,4700]),
(2014.7875,[240,600,880,1260,1660,1920,2340,2800,3100,3510,3830,4300]),
(2014.8125,[30,410,750,1120,1470,1760,2200,2590,3010,3390,3850,4250,4650]),
(2014.8375,[170,530,860,1220,1580,1950,2380,2680,3070,3500,3930,4380]),
]
upper_2012_2014 = [
(2014.21,9160),(2014.13,8810),(2014.47,8260),(2013.28,8650),(2013.28,7600),(2014.00,6940),(2014.32,6870),(2014.44,6770),(2014.82,6470),(2013.40,6420),(2012.92,6280),(2013.00,6120),(2013.08,6040),(2013.27,6000),(2013.41,5850),(2013.71,6320),(2013.77,6150),(2013.82,6000),(2013.95,6110),(2013.92,6010),(2013.72,5940),(2013.76,5820),(2014.12,6030),(2014.21,5900),(2014.34,5950),(2014.29,6260),(2014.28,6170),(2014.60,6250),(2014.71,6230),(2014.62,6100),(2014.76,6060),(2012.53,5850),(2012.96,5700),(2012.69,5570),(2012.90,5530),(2012.91,5450),(2013.14,5510),(2013.45,5570),(2013.44,5470),(2013.66,5700),(2013.69,5640),(2013.66,5520),(2013.68,5520),(2014.01,5650),(2014.01,5580),(2014.00,5470),(2013.79,5370),(2013.81,5370),(2013.90,5360),(2014.03,5340),(2013.95,5270),(2014.31,5570),(2014.33,5570),(2014.37,5480),(2014.24,5390),(2014.44,5320),(2014.48,5430),(2014.50,5460),(2014.52,5310),(2014.57,5270),(2014.70,5740),(2014.73,5760),(2014.70,5640),(2014.71,5550),(2014.73,5550),(2012.57,5180),(2012.77,5110),(2012.71,4890),(2013.09,5250),(2013.17,5120),(2013.15,5080),(2013.19,5080),(2013.20,5230),(2013.25,5230),(2013.30,5270),(2013.06,4840),(2013.15,4880),(2013.30,4780),(2013.32,4870),(2013.36,4860),(2013.35,4720),(2013.24,4610),(2013.27,4630),(2013.27,4530),(2013.57,4570),(2013.67,4950),(2013.70,5000),(2013.73,5010),(2013.75,4920),(2013.64,4790),(2013.65,4710),(2013.69,4550),(2013.85,4850),(2013.90,4880),(2013.97,4970),(2014.02,4870),(2013.94,4690),(2013.97,4680),(2014.08,5010),(2014.05,4530),(2014.09,4700),(2014.12,4640),(2014.15,4580),(2014.12,4390),(2014.22,4770),(2014.21,4430),(2014.34,4940),(2014.34,4840),(2014.38,4780),(2014.45,4960),(2014.44,4610),(2014.37,4490),(2014.44,4490),(2014.30,4650),(2012.88,4410),(2013.12,4400),
(2014.80,5300),(2014.84,5650),(2014.83,4950),(2014.78,5150),
]

x_ticks = [2000, 2002, 2004, 2006, 2008, 2010, 2012, 2014]
y_ticks = [0, 1000, 2000, 3000, 4000, 5000, 6000, 7000, 8000, 9000]
y_tick_text = ["0k", "1k", "2k", "3k", "4k", "5k", "6k", "7k", "8k", "9k"]
menu_items = ["Plot", "Pass RMS", "Bin RMS", "Applied System Delay", "System Delay RMS",
              "Temperature", "Pressure", "Humidity", "Wavelength", "Calibration Delay Shift",
              "Flag1", "Flag2", "Flag3", "NPs Per Pass", "FRs Per Pass", "(FR/NP) Per Pass"]


def to_date(y):
    yr = int(y)
    start = pd.Timestamp(year=yr, month=1, day=1)
    end = pd.Timestamp(year=yr + 1, month=1, day=1)
    return start + (end - start) * (y - yr)


xs, ys = [], []
for lst in [low_band, low_base, band_2006_2007, cluster_2007, cluster_2008,
            burst_2009_2011, sparse_2011, dense_2012, upper_2012_2014]:
    for d, v in lst:
        xs.append(to_date(d)); ys.append(v)
for lst in [cols_2009_2011, cols_2011_2012, cols_2012_2013, cols_2013_2014, cols_2013_2014_b]:
    for d, vals in lst:
        for v in vals:
            xs.append(to_date(d)); ys.append(v)

# ---------------- layout geometry (pixels) ----------------
W, H = 1581, 1032
L, R, T, B = 109, 1569, 119, 889
def fx(px): return (px - L) / (R - L)
def fy(py): return (B - py) / (B - T)

FONT = "Liberation Sans, Arial, sans-serif"
RED = "#e41b1b"

fig = go.Figure()
fig.add_trace(go.Scatter(
    x=xs, y=ys, mode="markers", name="(FR/NP) Per Pass Changchun 7237",
    marker=dict(size=9.5, color=RED, line=dict(width=0)),
    hoverinfo="x+y"))

fig.update_layout(
    width=W, height=H, autosize=False,
    margin=dict(l=L, r=W - R, t=T, b=H - B, pad=0, autoexpand=False),
    paper_bgcolor="white", plot_bgcolor="white",
    font=dict(family=FONT),
    showlegend=True,
    legend=dict(x=fx(612), xanchor="left", y=fy(1004), yanchor="middle",
                orientation="h", bgcolor="rgba(0,0,0,0)",
                font=dict(family=FONT, size=20, color="#333333", weight="bold")),
    xaxis=dict(type="date", range=[to_date(1999.85), to_date(2014.97)],
               tickvals=[to_date(t) for t in x_ticks], ticktext=[str(t) for t in x_ticks],
               showgrid=True, gridcolor="#c8c8c8", gridwidth=1,
               showline=True, linecolor="#c4d0de", linewidth=2,
               zeroline=False, ticks="", ticklabelstandoff=6, automargin=False,
               tickfont=dict(family=FONT, size=18, color="#666666"), fixedrange=True),
    yaxis=dict(range=[0, 9620], tickvals=y_ticks, ticktext=y_tick_text,
               showgrid=True, gridcolor="#c8c8c8", gridwidth=1, zeroline=False,
               showline=False, ticks="", ticklabelstandoff=22, automargin=False,
               tickfont=dict(family=FONT, size=18, color="#666666"), fixedrange=True),
)

ann = []
def text(px, py, s, size, color, xanchor="center", weight="normal", family=FONT, angle=0):
    ann.append(dict(x=fx(px), y=fy(py), xref="paper", yref="paper", text=s, showarrow=False,
                    xanchor=xanchor, yanchor="middle", textangle=angle,
                    font=dict(family=family, size=size, color=color, weight=weight)))

text(797, 43, "LAGEOS", 35, "#333333", weight="bold",
     family="Liberation Sans Narrow, DejaVu Sans Condensed, Liberation Sans, sans-serif")
text(796, 104, "Mean: 1,299.69 Std Dev: 1,451.53 Max: 9,159 Min 1", 22.7, "#333333", weight="bold")
text(839, 942, "DATE", 18.5, "#6d6d6d")
text(42, 504, "(FR/NP) Per Pass", 18.5, "#6d6d6d", angle=-90)
text(1569, 1020, "Highcharts.com", 15.4, "#909090", xanchor="right")

shapes = []
def rect(x0, y0, x1, y1, color):
    shapes.append(dict(type="rect", xref="paper", yref="paper", x0=fx(x0), x1=fx(x1),
                       y0=fy(y1), y1=fy(y0), fillcolor=color, layer="above",
                       line=dict(width=0)))

def rrect(x0, y0, x1, y1, r, color, linecolor):
    segs = [("M", (x0 + r, y0)), ("L", (x1 - r, y0)), ("Q", (x1, y0), (x1, y0 + r)),
            ("L", (x1, y1 - r)), ("Q", (x1, y1), (x1 - r, y1)), ("L", (x0 + r, y1)),
            ("Q", (x0, y1), (x0, y1 - r)), ("L", (x0, y0 + r)), ("Q", (x0, y0), (x0 + r, y0))]
    s = ""
    for seg in segs:
        s += " " + seg[0] + " " + " ".join("%.5f,%.5f" % (fx(p[0]), fy(p[1])) for p in seg[1:])
    s += " Z"
    shapes.append(dict(type="path", xref="paper", yref="paper", path=s.strip(), fillcolor=color,
                       layer="above", line=dict(color=linecolor, width=1)))

# page border
rect(6, 6, W, 10, "#2c4b3c")
rect(6, 6, 10, H, "#2c4b3c")
# hamburger menu icon
for cy in (36, 44, 52):
    rect(1539, cy - 2.2, 1566, cy + 2.2, "#666666")
# dropdown menu overlay
rect(129, 55, 499, 653, "#bdbdbd")
rect(131, 640, 499, 653, "#a9a9a9")
rrect(135, 57, 496, 644, 7, "#fdfdfd", "#d9d9d9")
band_cols = ["#6c8ff7", "#5a83f6", "#4875f4", "#3467f2"]
for k, c in enumerate(band_cols):
    rect(135, 66 + k * 9, 496, 66 + (k + 1) * 9, c)

for i, item in enumerate(menu_items):
    text(183, 82 + i * 35.6, item, 23, "white" if i == 0 else "#111111", xanchor="left",
         family="DejaVu Sans, Verdana, sans-serif")
text(155, 616, "\u2713", 22, "#111111", family="DejaVu Sans, sans-serif")

fig.update_layout(annotations=ann, shapes=shapes)
fig.write_html("out.html", config={"displayModeBar": False},
               post_script="document.body.style.margin='0';")
